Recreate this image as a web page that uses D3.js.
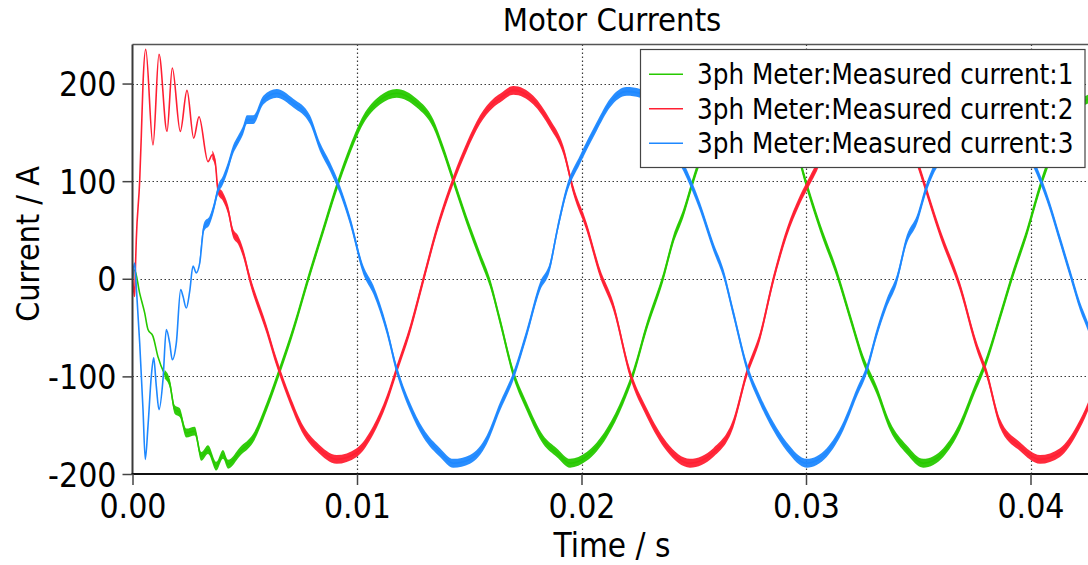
<!DOCTYPE html>
<html>
<head>
<meta charset="utf-8">
<script src="https://cdn.jsdelivr.net/npm/d3@7"></script>
<style>
  html, body { margin: 0; padding: 0; background: #ffffff; }
  svg { display: block; }
  text { font-family: "DejaVu Sans Condensed", "DejaVu Sans", sans-serif; font-stretch: condensed; fill: #000; }
</style>
</head>
<body>
<svg id="chart" width="1088" height="565"></svg>
<script>
// Motor phase currents from the 3ph meter: [time in ms, current in A]
const current1 = [
  [0, 0], [0.094, 9], [0.321, -15], [0.543, -35], [0.690, -52], [0.913, -59], [1.136, -80],
  [1.434, -98], [1.657, -107], [1.880, -134], [2.102, -137], [2.396, -158], [2.771, -156],
  [3.065, -182], [3.363, -175], [3.733, -192], [4.031, -180], [4.254, -190], [4.788, -177],
  [5.381, -163], [5.978, -131], [6.570, -93], [7.163, -52], [7.906, 6], [8.499, 50],
  [9.096, 94], [9.688, 132], [10.281, 163], [11.024, 183], [11.768, 190], [12.659, 180],
  [13.399, 159], [13.844, 132], [14.290, 101], [14.886, 60], [15.479, 23], [15.924, -4],
  [16.370, -43], [16.962, -97], [17.559, -131], [18.298, -165], [18.895, -178], [19.488, -189],
  [20.232, -182], [21.122, -158], [21.862, -124], [22.307, -97], [22.904, -49], [23.644, 2],
  [24.089, 40], [24.535, 67], [24.980, 101], [25.278, 122], [26.036, 163], [26.793, 183],
  [27.550, 190], [28.441, 180], [29.154, 159], [29.599, 132], [29.879, 108], [30.624, 53],
  [31.367, 6], [31.960, -39], [32.552, -83], [33.149, -114], [33.742, -151], [34.486, -175],
  [35.225, -189], [36.116, -178], [36.860, -151], [37.452, -117], [38.049, -83], [38.641, -39],
  [39.234, 6], [39.831, 47], [40.423, 94], [41.002, 132], [41.581, 163], [42.205, 180],
  [42.561, 184], [43.096, 190]
];

const current2 = [
  [0, 2], [0.045, -10], [0.094, -18], [0.129, 10], [0.169, 40], [0.321, 101], [0.392, 146],
  [0.468, 200], [0.588, 235], [0.913, 137], [1.180, 230], [1.537, 151], [1.773, 216],
  [2.129, 151], [2.428, 193], [2.726, 144], [2.962, 166], [3.363, 120], [3.555, 127],
  [3.688, 119], [3.808, 91], [4.031, 84], [4.254, 71], [4.477, 47], [4.699, 40], [4.922, 27],
  [5.234, -1], [5.978, -52], [6.423, -86], [7.016, -124], [7.608, -155], [8.205, -172],
  [9.096, -185], [9.987, -178], [10.726, -155], [11.323, -124], [11.768, -93], [12.361, -52],
  [12.953, -1], [13.550, 50], [14.290, 101], [14.886, 135], [15.479, 163], [16.071, 180],
  [16.370, 185], [16.962, 193], [17.853, 183], [18.597, 159], [19.189, 132], [19.635, 91],
  [20.232, 53], [20.824, 6], [21.416, -28], [22.160, -97], [22.904, -137], [23.795, -172],
  [24.833, -189], [25.871, -178], [26.762, -148], [27.359, -97], [27.951, -59], [28.543, -1],
  [29.140, 47], [29.733, 81], [30.178, 101], [30.490, 115], [31.292, 163], [31.871, 180],
  [32.762, 191], [33.653, 183], [34.410, 159], [35.078, 111], [35.969, 47], [36.860, -8],
  [37.604, -69], [38.049, -97], [38.641, -148], [39.532, -172], [40.423, -185], [41.314, -178],
  [42.058, -155], [42.561, -131], [43.096, -95]
];

const current3 = [
  [0, 0], [0.022, 6], [0.098, 16], [0.169, -8], [0.321, -66], [0.468, -134], [0.570, -185],
  [0.690, -151], [0.837, -100], [0.944, -81], [1.060, -110], [1.180, -134], [1.359, -103],
  [1.506, -52], [1.657, -66], [1.773, -83], [1.951, -66], [2.147, -11], [2.249, -18],
  [2.396, -30], [2.548, -13], [2.695, 13], [2.842, 6], [2.993, 16], [3.185, 53], [3.439, 60],
  [3.630, 74], [3.808, 91], [4.031, 101], [4.254, 115], [4.477, 132], [4.699, 142],
  [4.922, 152], [5.100, 163], [5.381, 163], [5.826, 183], [6.423, 190], [7.163, 180],
  [7.906, 163], [8.352, 135], [8.797, 115], [9.243, 91], [9.688, 60], [10.281, 9],
  [10.726, -11], [11.323, -52], [11.768, -93], [12.361, -131], [12.953, -158], [13.697, -178],
  [14.290, -189], [15.033, -185], [15.777, -165], [16.370, -131], [16.962, -100], [17.559, -56],
  [18.151, -8], [18.597, 13], [18.895, 47], [19.341, 91], [19.933, 122], [20.677, 156],
  [21.269, 180], [22.013, 192], [22.606, 190], [22.873, 180], [23.630, 163], [24.076, 135],
  [24.535, 115], [25.278, 74], [25.871, 33], [26.316, 6], [26.762, -35], [27.359, -90],
  [27.951, -124], [28.543, -151], [29.140, -172], [30.031, -189], [30.922, -178], [31.661, -151],
  [32.258, -117], [32.704, -93], [33.149, -56], [33.595, -25], [34.040, -1], [34.486, 40],
  [34.931, 60], [35.376, 94], [35.670, 111], [35.924, 122], [36.637, 156], [37.261, 180],
  [37.973, 191], [38.641, 180], [39.354, 163], [39.800, 135], [40.276, 111], [40.869, 74],
  [41.314, 40], [41.759, 6], [42.205, -28], [42.561, -49], [43.096, -88]
];

const seriesNames = [
  "3ph Meter:Measured current:1",
  "3ph Meter:Measured current:2",
  "3ph Meter:Measured current:3"
];
const seriesColors = ["#27c900", "#ff1f32", "#1e88ff"];
// time (ms) after which the PWM ripple band is visible on each phase
const rippleOnsetMs = [1.6, 3.7, 3.1];
const rippleAmps = 4.5; // half-height of the switching ripple, A

const xTicks = [0, 0.01, 0.02, 0.03, 0.04];
const yTicks = [-200, -100, 0, 100, 200];
const xDomain = [0, 0.043];
const yDomain = [-200, 240];

const svg = d3.select("#chart");
const plotLeft = 132.5, plotTop = 44.5, plotBottom = 474;
const plotRight = plotLeft + 0.043 * 22450;

const x = d3.scaleLinear().domain(xDomain).range([plotLeft, plotRight]);
const y = d3.scaleLinear().domain(yDomain).range([plotBottom, plotTop]);

// clip region for the traces
svg.append("defs").append("clipPath").attr("id", "plotClip")
  .append("rect").attr("x", plotLeft).attr("y", plotTop)
  .attr("width", plotRight - plotLeft).attr("height", plotBottom - plotTop);

// dotted grid
const grid = svg.append("g").attr("stroke", "#3a3a3a").attr("stroke-width", 1.2)
  .attr("stroke-dasharray", "1.5,2.5");
grid.selectAll("line.v").data(xTicks.filter(d => d > 0)).join("line")
  .attr("x1", d => Math.round(x(d)) + 0.5).attr("x2", d => Math.round(x(d)) + 0.5)
  .attr("y1", plotTop).attr("y2", plotBottom);
grid.selectAll("line.h").data(yTicks.filter(d => d > -200)).join("line")
  .attr("x1", plotLeft).attr("x2", plotRight)
  .attr("y1", d => Math.round(y(d)) + 0.5).attr("y2", d => Math.round(y(d)) + 0.5);

// traces
const traces = svg.append("g").attr("clip-path", "url(#plotClip)");
const allSeries = [current1, current2, current3];
const band = d3.area()
  .x(d => x(d[0] / 1000))
  .y0(d => y(d[1] - rippleAmps))
  .y1(d => y(d[1] + rippleAmps))
  .curve(d3.curveMonotoneX);
const line = d3.line()
  .x(d => x(d[0] / 1000))
  .y(d => y(d[1]))
  .curve(d3.curveMonotoneX);

allSeries.forEach((s, i) => {
  const steady = s.filter(d => d[0] >= rippleOnsetMs[i] - 0.25);
  traces.append("path").datum(steady)
    .attr("d", band).attr("fill", seriesColors[i]).attr("opacity", 0.95);
  traces.append("path").datum(s)
    .attr("d", line).attr("fill", "none")
    .attr("stroke", seriesColors[i]).attr("stroke-width", 1.6)
    .attr("stroke-linejoin", "round");
});

// frame
svg.append("line").attr("x1", plotLeft).attr("x2", plotRight).attr("y1", plotTop).attr("y2", plotTop)
  .attr("stroke", "#555").attr("stroke-width", 1.5);
svg.append("line").attr("x1", plotLeft).attr("x2", plotLeft).attr("y1", plotTop).attr("y2", plotBottom)
  .attr("stroke", "#3a3a3a").attr("stroke-width", 2);
svg.append("line").attr("x1", plotLeft - 1).attr("x2", plotRight).attr("y1", plotBottom).attr("y2", plotBottom)
  .attr("stroke", "#111").attr("stroke-width", 2);

// axes (plain hyphen for negative labels)
const yAxis = svg.append("g").attr("transform", `translate(${plotLeft},0)`)
  .call(d3.axisLeft(y).tickValues(yTicks).tickSize(10).tickPadding(6).tickFormat(d => String(d)));
const xAxis = svg.append("g").attr("transform", `translate(0,${plotBottom})`)
  .call(d3.axisBottom(x).tickValues(xTicks).tickSize(11).tickPadding(9).tickFormat(d3.format(".2f")));
[yAxis, xAxis].forEach(a => {
  a.select(".domain").remove();
  a.selectAll(".tick line").attr("stroke", "#444").attr("stroke-width", 1.5);
  a.selectAll(".tick text").attr("font-size", 33.5)
    .attr("font-family", "\"DejaVu Sans Condensed\", \"DejaVu Sans\", sans-serif")
    .attr("fill", "#000");
});
yAxis.selectAll(".tick text").attr("dy", "0.36em");

// titles
svg.append("text").attr("x", 612).attr("y", 31).attr("text-anchor", "middle")
  .attr("font-size", 32.5).text("Motor Currents");
svg.append("text").attr("x", 612).attr("y", 557).attr("text-anchor", "middle")
  .attr("font-size", 33).text("Time / s");
svg.append("text").attr("transform", "translate(39,244) rotate(-90)")
  .attr("text-anchor", "middle").attr("font-size", 32).text("Current / A");

// legend
const legend = svg.append("g");
legend.append("rect").attr("x", 640.5).attr("y", 49.5).attr("width", 444.5).attr("height", 118)
  .attr("fill", "#fff").attr("stroke", "#444").attr("stroke-width", 1.2);
seriesNames.forEach((name, i) => {
  const ly = 74.3 + i * 34.5;
  legend.append("line").attr("x1", 649).attr("x2", 683).attr("y1", ly).attr("y2", ly)
    .attr("stroke", seriesColors[i]).attr("stroke-width", 1.5);
  legend.append("text").attr("x", 697).attr("y", ly + 10).attr("font-size", 27.5).text(name);
});
</script>
</body>
</html>
